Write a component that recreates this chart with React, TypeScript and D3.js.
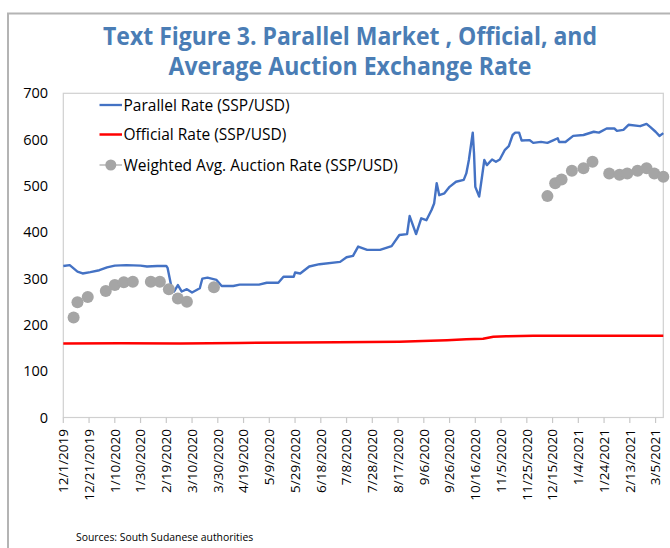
import React, { useEffect, useRef } from "react";
import * as d3 from "d3";

// values
const titleLines = [
  "Text Figure 3. Parallel Market , Official, and",
  "Average Auction Exchange Rate",
];
const seriesNames = [
  "Parallel Rate (SSP/USD)",
  "Official Rate (SSP/USD)",
  "Weighted Avg. Auction Rate (SSP/USD)",
];
const sourceNote = "Sources: South Sudanese authorities";

const yTicks = [0, 100, 200, 300, 400, 500, 600, 700];
const xTickLabels = [
  "12/1/2019", "12/21/2019", "1/10/2020", "1/30/2020", "2/19/2020", "3/10/2020",
  "3/30/2020", "4/19/2020", "5/9/2020", "5/29/2020", "6/18/2020", "7/8/2020",
  "7/28/2020", "8/17/2020", "9/6/2020", "9/26/2020", "10/16/2020", "11/5/2020",
  "11/25/2020", "12/15/2020", "1/4/2021", "1/24/2021", "2/13/2021", "3/5/2021",
];
const firstDay = "12/1/2019";
const lastDay = "3/11/2021";

const parallelRate: [string, number][] = [
  ["12/1/2019", 327], ["12/6/2019", 329], ["12/12/2019", 315], ["12/16/2019", 311],
  ["12/22/2019", 314], ["12/29/2019", 318], ["1/4/2020", 324], ["1/10/2020", 328],
  ["1/19/2020", 329], ["1/30/2020", 328], ["2/4/2020", 326], ["2/12/2020", 327],
  ["2/19/2020", 327], ["2/20/2020", 323], ["2/23/2020", 282], ["2/25/2020", 272],
  ["2/28/2020", 286], ["3/2/2020", 272], ["3/6/2020", 277], ["3/10/2020", 270],
  ["3/16/2020", 279], ["3/18/2020", 300], ["3/22/2020", 302], ["3/29/2020", 297],
  ["4/2/2020", 284], ["4/11/2020", 284], ["4/16/2020", 287], ["5/1/2020", 287],
  ["5/7/2020", 291], ["5/16/2020", 291], ["5/20/2020", 304], ["5/28/2020", 304],
  ["5/29/2020", 313], ["6/2/2020", 311], ["6/9/2020", 326], ["6/17/2020", 331],
  ["7/3/2020", 336], ["7/8/2020", 346], ["7/13/2020", 349], ["7/17/2020", 369],
  ["7/24/2020", 362], ["8/3/2020", 362], ["8/12/2020", 370], ["8/18/2020", 394],
  ["8/24/2020", 396], ["8/26/2020", 435], ["8/31/2020", 396], ["9/4/2020", 430],
  ["9/8/2020", 426], ["9/12/2020", 448], ["9/14/2020", 462], ["9/16/2020", 506],
  ["9/18/2020", 480], ["9/22/2020", 484], ["9/26/2020", 498], ["10/1/2020", 509],
  ["10/7/2020", 513], ["10/9/2020", 527], ["10/11/2020", 556], ["10/14/2020", 615],
  ["10/15/2020", 570], ["10/16/2020", 498], ["10/19/2020", 477], ["10/21/2020", 516],
  ["10/23/2020", 556], ["10/25/2020", 545], ["10/29/2020", 557], ["11/1/2020", 552],
  ["11/4/2020", 557], ["11/8/2020", 578], ["11/11/2020", 586], ["11/14/2020", 610],
  ["11/16/2020", 615], ["11/19/2020", 615], ["11/21/2020", 598], ["11/27/2020", 599],
  ["11/30/2020", 593], ["12/6/2020", 595], ["12/11/2020", 593], ["12/15/2020", 598],
  ["12/19/2020", 603], ["12/20/2020", 595], ["12/25/2020", 595], ["12/31/2020", 608],
  ["1/8/2021", 610], ["1/16/2021", 617], ["1/20/2021", 615], ["1/26/2021", 624],
  ["2/1/2021", 624], ["2/3/2021", 619], ["2/8/2021", 621], ["2/12/2021", 632],
  ["2/21/2021", 629], ["2/26/2021", 634], ["3/1/2021", 627], ["3/5/2021", 617],
  ["3/8/2021", 608], ["3/11/2021", 614],
];

const officialRate: [string, number][] = [
  ["12/1/2019", 160], ["1/15/2020", 160.5], ["3/1/2020", 160], ["4/15/2020", 161],
  ["6/1/2020", 162], ["7/1/2020", 162.5], ["8/18/2020", 163.7], ["9/5/2020", 165],
  ["9/24/2020", 167], ["10/9/2020", 169], ["10/22/2020", 170], ["10/30/2020", 174.5],
  ["11/9/2020", 175.3], ["11/30/2020", 176.7], ["3/11/2021", 176.7],
];

const auctionRate: [string, number][] = [
  ["12/9/2019", 216], ["12/12/2019", 249], ["12/20/2019", 260], ["1/3/2020", 273],
  ["1/10/2020", 286], ["1/17/2020", 292], ["1/24/2020", 293], ["2/7/2020", 293],
  ["2/14/2020", 293], ["2/21/2020", 277], ["2/28/2020", 257], ["3/6/2020", 250],
  ["3/27/2020", 281],
  ["12/11/2020", 478], ["12/17/2020", 506], ["12/22/2020", 514], ["12/30/2020", 533],
  ["1/8/2021", 538], ["1/15/2021", 552], ["1/28/2021", 527], ["2/5/2021", 524],
  ["2/11/2021", 527], ["2/19/2021", 533], ["2/26/2021", 538], ["3/4/2021", 527],
  ["3/11/2021", 520],
];

const parseDate = d3.utcParse("%m/%d/%Y");
const FONT = "'Open Sans', 'Noto Sans', sans-serif";

const Chart = () => {
  const ref = useRef<SVGSVGElement>(null);

  useEffect(() => {
    const svg = d3.select(ref.current);
    svg.selectAll("*").remove();

    const plot = { left: 63.3, right: 663.3, top: 93.3, bottom: 417.5 };

    const x = d3.scaleUtc()
      .domain([parseDate(firstDay)!, parseDate(lastDay)!])
      .range([plot.left, plot.right]);
    const y = d3.scaleLinear().domain([0, 700]).range([plot.bottom, plot.top]);

    // outer chart frame (runs off the right and bottom edges)
    svg.append("rect")
      .attr("x", 8).attr("y", 13.5)
      .attr("width", 700).attr("height", 600)
      .attr("fill", "#fff")
      .attr("stroke", "#b4b4b4").attr("stroke-width", 2);

    // title
    svg.append("g").selectAll("text").data(titleLines).enter().append("text")
      .attr("x", 350).attr("y", (d, i) => (i === 0 ? 44.5 : 75))
      .attr("text-anchor", "middle")
      .attr("textLength", (d, i) => (i === 0 ? 494 : 363))
      .attr("lengthAdjust", "spacingAndGlyphs")
      .attr("font-family", FONT).attr("font-weight", "bold")
      .attr("font-size", 24.5).attr("fill", "#4a7db5")
      .text(d => d);

    // plot area border
    svg.append("rect")
      .attr("x", plot.left).attr("y", plot.top)
      .attr("width", plot.right - plot.left).attr("height", plot.bottom - plot.top)
      .attr("fill", "none").attr("stroke", "#d0d0d0").attr("stroke-width", 1.2);

    // y axis labels
    svg.append("g").selectAll("text").data(yTicks).enter().append("text")
      .attr("x", 48).attr("y", d => y(d))
      .attr("dy", "0.35em").attr("text-anchor", "end")
      .attr("font-family", FONT).attr("font-size", 14.5).attr("fill", "#000")
      .text(d => d);

    // x axis ticks and labels
    const xg = svg.append("g");
    xg.selectAll("line").data(xTickLabels).enter().append("line")
      .attr("x1", d => x(parseDate(d)!)).attr("x2", d => x(parseDate(d)!))
      .attr("y1", plot.bottom).attr("y2", plot.bottom + 5.5)
      .attr("stroke", "#c8c8c8").attr("stroke-width", 1.2);
    xg.selectAll("text").data(xTickLabels).enter().append("text")
      .attr("transform", d => `translate(${x(parseDate(d)!)},429) rotate(-90)`)
      .attr("text-anchor", "end").attr("dy", "0.36em")
      .attr("font-family", FONT).attr("font-size", 13.5).attr("fill", "#000")
      .text(d => d);

    // series
    const line = d3.line<[string, number]>()
      .x(d => x(parseDate(d[0])!))
      .y(d => y(d[1]));

    svg.append("path").datum(parallelRate)
      .attr("d", line).attr("fill", "none")
      .attr("stroke", "#4472c4").attr("stroke-width", 2.4)
      .attr("stroke-linejoin", "round");

    svg.append("path").datum(officialRate)
      .attr("d", line).attr("fill", "none")
      .attr("stroke", "#ff0000").attr("stroke-width", 2.5)
      .attr("stroke-linejoin", "round");

    svg.append("g").selectAll("circle").data(auctionRate).enter().append("circle")
      .attr("cx", d => x(parseDate(d[0])!)).attr("cy", d => y(d[1]))
      .attr("r", 6).attr("fill", "#a5a5a5");

    // legend
    const rows = [105, 134.5, 165];
    const lg = svg.append("g");
    lg.append("line").attr("x1", 99.5).attr("x2", 122).attr("y1", rows[0]).attr("y2", rows[0])
      .attr("stroke", "#4472c4").attr("stroke-width", 2.3);
    lg.append("line").attr("x1", 99.5).attr("x2", 122).attr("y1", rows[1]).attr("y2", rows[1])
      .attr("stroke", "#ff0000").attr("stroke-width", 2.5);
    lg.append("line").attr("x1", 99.5).attr("x2", 122).attr("y1", rows[2]).attr("y2", rows[2])
      .attr("stroke", "#a5a5a5").attr("stroke-width", 1.2);
    lg.append("circle").attr("cx", 110.8).attr("cy", rows[2]).attr("r", 5.5).attr("fill", "#a5a5a5");
    lg.selectAll("text").data(seriesNames).enter().append("text")
      .attr("x", 123.5).attr("y", (d, i) => rows[i])
      .attr("dy", "0.36em")
      .attr("font-family", FONT).attr("font-size", 15.5).attr("fill", "#000")
      .text(d => d);

    // source note
    svg.append("text")
      .attr("x", 76).attr("y", 537).attr("dy", "0.35em")
      .attr("font-family", FONT).attr("font-size", 10.4).attr("fill", "#000")
      .text(sourceNote);
  }, []);

  return <svg ref={ref} width={670} height={548}
    style={{ position: "absolute", left: 0, top: 0, background: "#fff" }} />;
};

export default function App() {
  return <Chart />;
}
